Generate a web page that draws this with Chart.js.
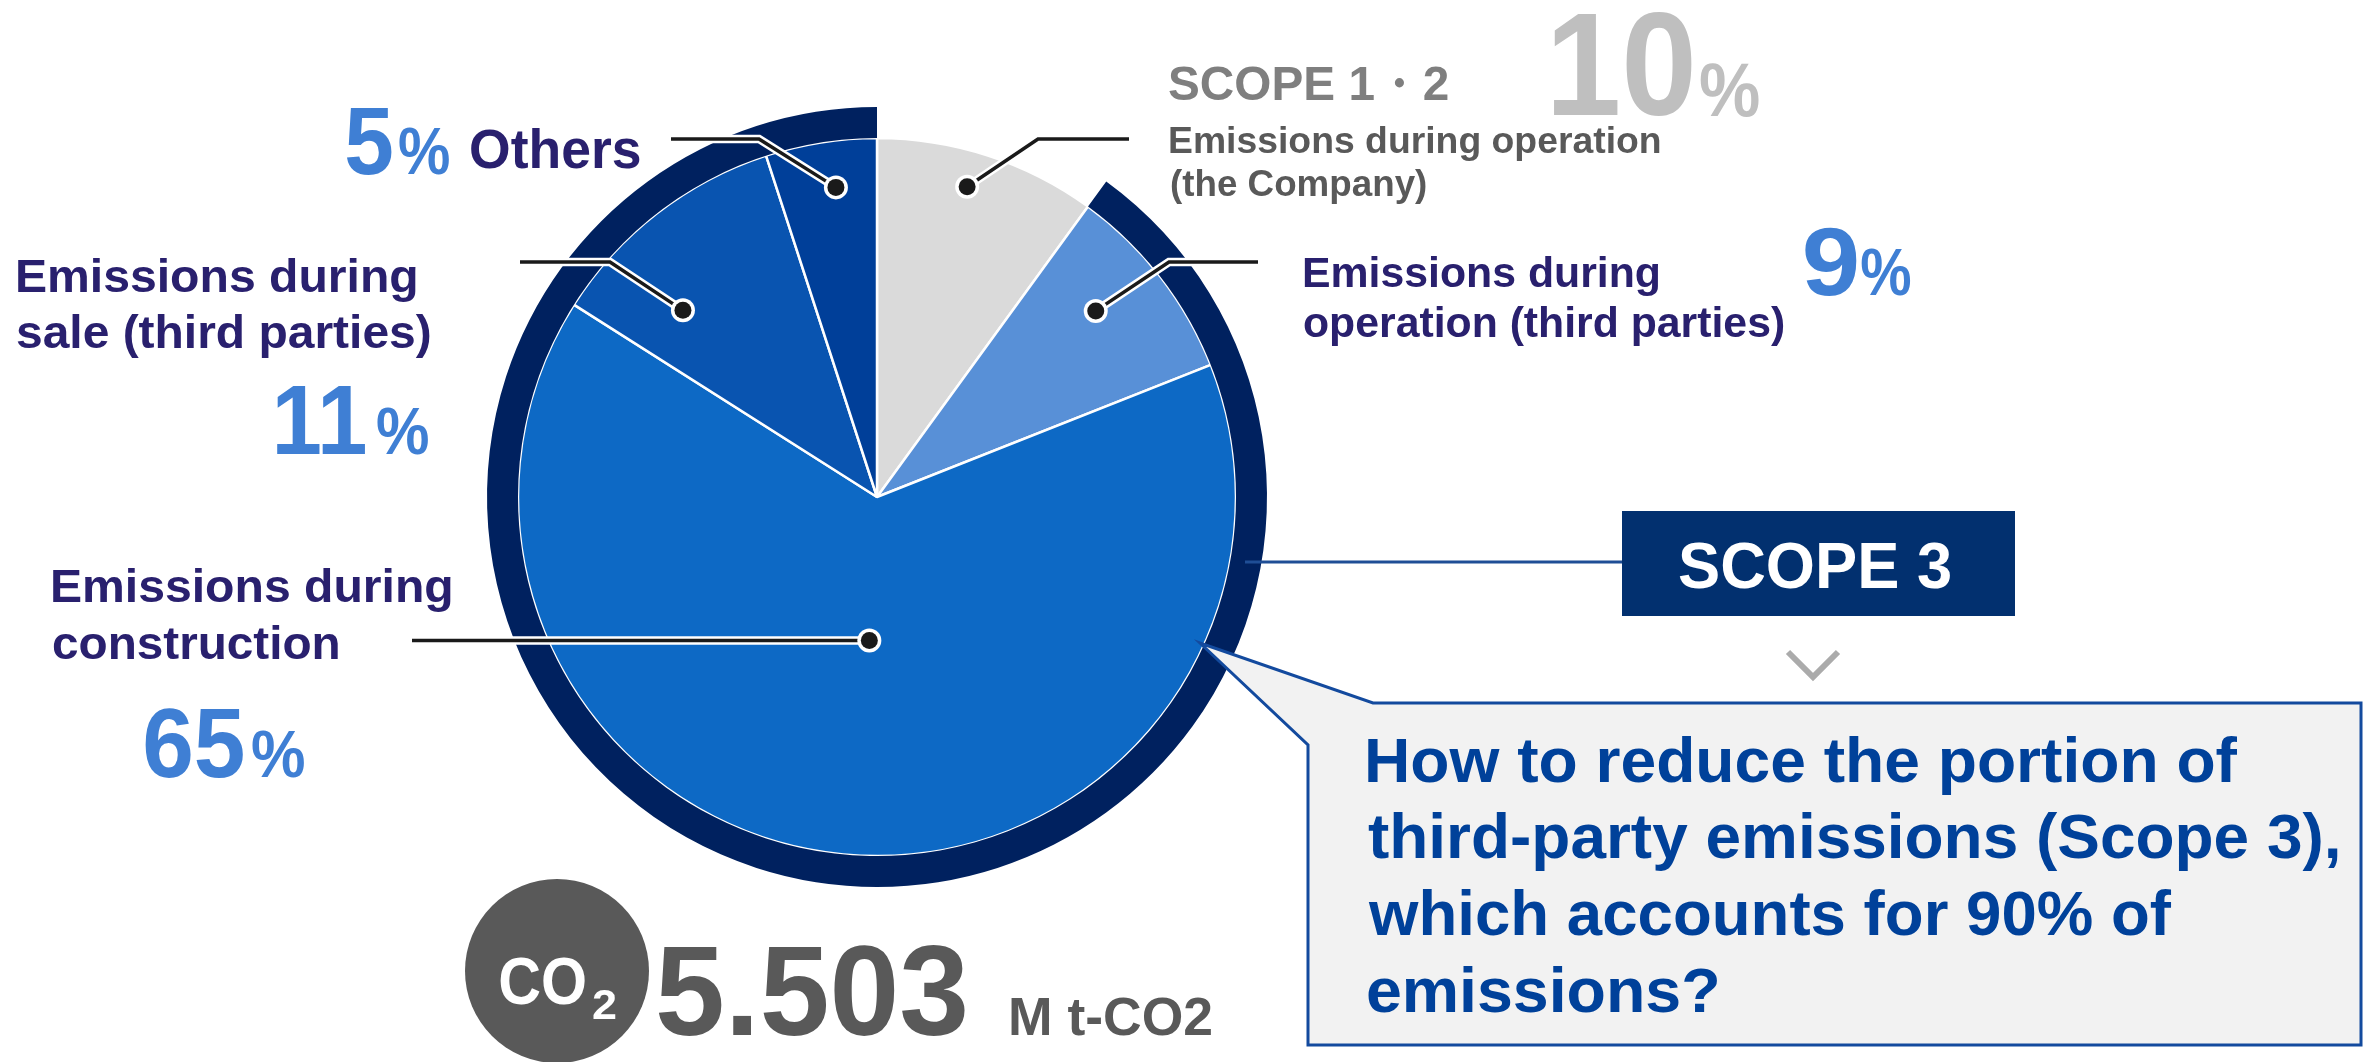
<!DOCTYPE html>
<html>
<head>
<meta charset="utf-8">
<script src="https://cdn.jsdelivr.net/npm/chart.js"></script>
<style>
  html, body { margin: 0; padding: 0; background: #fff; overflow: hidden; }
  #wrap { position: relative; width: 2367px; height: 1062px; }
</style>
</head>
<body>
<div id="wrap"><canvas id="chart" width="2367" height="1062"></canvas></div>
<script>
// slices, clockwise from 12 o'clock
const categories = ['Emissions during operation (the Company)', 'Emissions during operation (third parties)',
                    'Emissions during construction', 'Emissions during sale (third parties)', 'Others'];
const shares = [10, 9, 65, 11, 5];
// outer ring: Scope 1・2 is left open, Scope 3 is the navy arc
const scopeLabels = ['SCOPE 1・2', 'SCOPE 3'];
const scopeShares = [10, 90];
const totalEmissions = '5.503';
const totalUnit = 'M t-CO2';

const sliceColors = ['#dadada', '#5890d7', '#0d69c5', '#0954b0', '#003f99'];
const ringColors = ['rgba(0,0,0,0)', '#00215f'];

const FONT = '"Liberation Sans", Arial, sans-serif';
const NAVY = '#29206e';
const BLUE = '#3f7fd4';

// draw bold text with its ink box starting at x and stretched to width w
function fitText(ctx, str, x, base, size, color, w) {
    ctx.font = `bold ${size}px ${FONT}`;
    const m = ctx.measureText(str);
    const ink = m.actualBoundingBoxLeft + m.actualBoundingBoxRight;
    const sx = w ? w / ink : 1;
    ctx.save();
    ctx.translate(x, base);
    ctx.scale(sx, 1);
    ctx.fillStyle = color;
    ctx.textAlign = 'left';
    ctx.textBaseline = 'alphabetic';
    ctx.fillText(str, m.actualBoundingBoxLeft, 0);
    ctx.restore();
}

// where the leader dot sits inside each slice (fraction of angle, fraction of radius)
const dotPlace = [[0.45, 0.90], [0.42, 0.80], [0.49, 0.40], [0.29, 0.75], [0.58, 0.87]];
// leader elbows and ends (null elbow = straight horizontal)
const leaders = [
    { elbow: [1038, 139], end: [1129, 139] },
    { elbow: [1169, 262], end: [1258, 262] },
    { elbow: null, end: [412, null] },
    { elbow: [610, 262], end: [520, 262] },
    { elbow: [759, 139], end: [671, 139] }
];

const annotations = {
    id: 'annotations',
    afterDraw(chart) {
        const ctx = chart.ctx;
        const meta = chart.getDatasetMeta(1);

        // leader lines
        meta.data.forEach((arc, i) => {
            const p = arc.getProps(['x', 'y', 'startAngle', 'endAngle', 'outerRadius'], true);
            const a = p.startAngle + dotPlace[i][0] * (p.endAngle - p.startAngle);
            const r = p.outerRadius * dotPlace[i][1];
            const dx = p.x + Math.cos(a) * r;
            const dy = p.y + Math.sin(a) * r;
            const L = leaders[i];
            const pts = [[dx, dy]];
            if (L.elbow) pts.push(L.elbow);
            pts.push([L.end[0], L.end[1] == null ? dy : L.end[1]]);

            ctx.save();
            ctx.lineJoin = 'miter';
            ctx.lineCap = 'butt';
            [['#ffffff', 8.5], ['#1a1a1a', 3.5]].forEach(([c, lw]) => {
                ctx.beginPath();
                pts.forEach((q, k) => k ? ctx.lineTo(q[0], q[1]) : ctx.moveTo(q[0], q[1]));
                ctx.strokeStyle = c;
                ctx.lineWidth = lw;
                ctx.stroke();
            });
            ctx.beginPath();
            ctx.arc(dx, dy, 12, 0, Math.PI * 2);
            ctx.fillStyle = '#ffffff';
            ctx.fill();
            ctx.beginPath();
            ctx.arc(dx, dy, 8.5, 0, Math.PI * 2);
            ctx.fillStyle = '#1a1a1a';
            ctx.fill();
            ctx.restore();
        });

        // slice labels
        fitText(ctx, String(shares[4]), 346, 174, 97, BLUE, 46);
        fitText(ctx, '%', 399, 174, 66, BLUE, 50);
        fitText(ctx, 'Others', 471, 168, 55, NAVY, 169);

        fitText(ctx, 'Emissions during', 18, 292, 47, NAVY, 398);
        fitText(ctx, 'sale (third parties)', 17, 348, 47, NAVY, 413);
        fitText(ctx, String(shares[3]), 277, 454, 98, BLUE, 88);
        fitText(ctx, '%', 377, 454, 66, BLUE, 51);

        fitText(ctx, 'Emissions during', 53, 602, 47, NAVY, 398);
        fitText(ctx, 'construction', 53, 659, 47, NAVY, 285);
        fitText(ctx, String(shares[2]), 145, 777, 98, BLUE, 98);
        fitText(ctx, '%', 252, 777, 66, BLUE, 52);

        fitText(ctx, scopeLabels[0], 1169, 100, 49, '#7f7f7f', 279);
        fitText(ctx, String(shares[0]), 1554, 115, 146, '#bfbfbf', 138);
        fitText(ctx, '%', 1700, 116, 76, '#bfbfbf', 59);
        fitText(ctx, 'Emissions during operation', 1170, 153, 37, '#595959', 490);
        fitText(ctx, '(the Company)', 1171, 196, 37, '#595959', 255);

        fitText(ctx, 'Emissions during', 1304, 287, 42.5, NAVY, 355);
        fitText(ctx, 'operation (third parties)', 1304, 337, 42.5, NAVY, 480);
        fitText(ctx, String(shares[1]), 1805, 295, 97, BLUE, 52);
        fitText(ctx, '%', 1861, 295, 66, BLUE, 49);

        // Scope 3 tag and connector
        ctx.save();
        ctx.strokeStyle = '#1f4e96';
        ctx.lineWidth = 3;
        ctx.beginPath();
        ctx.moveTo(1245, 562);
        ctx.lineTo(1622, 562);
        ctx.stroke();
        ctx.fillStyle = '#02306f';
        ctx.fillRect(1622, 511, 393, 105);
        ctx.restore();
        fitText(ctx, scopeLabels[1], 1679, 588, 65, '#ffffff', 271);

        // chevron
        ctx.save();
        ctx.strokeStyle = '#ababab';
        ctx.lineWidth = 6;
        ctx.beginPath();
        ctx.moveTo(1788, 652);
        ctx.lineTo(1813, 677);
        ctx.lineTo(1838, 652);
        ctx.stroke();
        ctx.restore();

        // callout box
        ctx.save();
        ctx.beginPath();
        ctx.moveTo(1373, 703);
        ctx.lineTo(2361, 703);
        ctx.lineTo(2361, 1045);
        ctx.lineTo(1308, 1045);
        ctx.lineTo(1308, 745);
        ctx.lineTo(1200, 643);
        ctx.closePath();
        ctx.fillStyle = '#f2f2f2';
        ctx.fill();
        ctx.strokeStyle = '#134a9e';
        ctx.lineWidth = 3;
        ctx.lineJoin = 'miter';
        ctx.stroke();
        ctx.restore();
        const CALLOUT = '#00419a';
        fitText(ctx, 'How to reduce the portion of', 1368, 782, 63, CALLOUT, 870);
        fitText(ctx, 'third-party emissions (Scope 3),', 1368, 858, 63, CALLOUT, 970);
        fitText(ctx, `which accounts for ${scopeShares[1]}% of`, 1368, 935, 63, CALLOUT, 804);
        fitText(ctx, 'emissions?', 1368, 1012, 63, CALLOUT, 349);

        // total
        ctx.save();
        ctx.beginPath();
        ctx.arc(557, 971, 92, 0, Math.PI * 2);
        ctx.fillStyle = '#595959';
        ctx.fill();
        ctx.restore();
        fitText(ctx, 'CO', 500, 1004, 66, '#ffffff', 85);
        fitText(ctx, '2', 593, 1019, 43, '#ffffff', 23);
        fitText(ctx, totalEmissions, 658, 1035, 128, '#595959', 307);
        fitText(ctx, totalUnit, 1011, 1035, 54, '#595959', 200);
    }
};

new Chart(document.getElementById('chart'), {
    type: 'pie',
    data: {
        labels: categories,
        datasets: [
            { label: 'Scope', data: scopeShares, backgroundColor: ringColors, borderWidth: 0, weight: 31 },
            { label: 'Share', data: shares, backgroundColor: sliceColors, borderColor: '#ffffff', borderWidth: 2.5, weight: 359 }
        ]
    },
    options: {
        responsive: false,
        devicePixelRatio: 1,
        animation: false,
        events: [],
        radius: 390,
        layout: { padding: { left: 477, right: 1090, top: 97, bottom: 165 } },
        plugins: {
            legend: { display: false },
            tooltip: { enabled: false }
        }
    },
    plugins: [annotations]
});
</script>
</body>
</html>
